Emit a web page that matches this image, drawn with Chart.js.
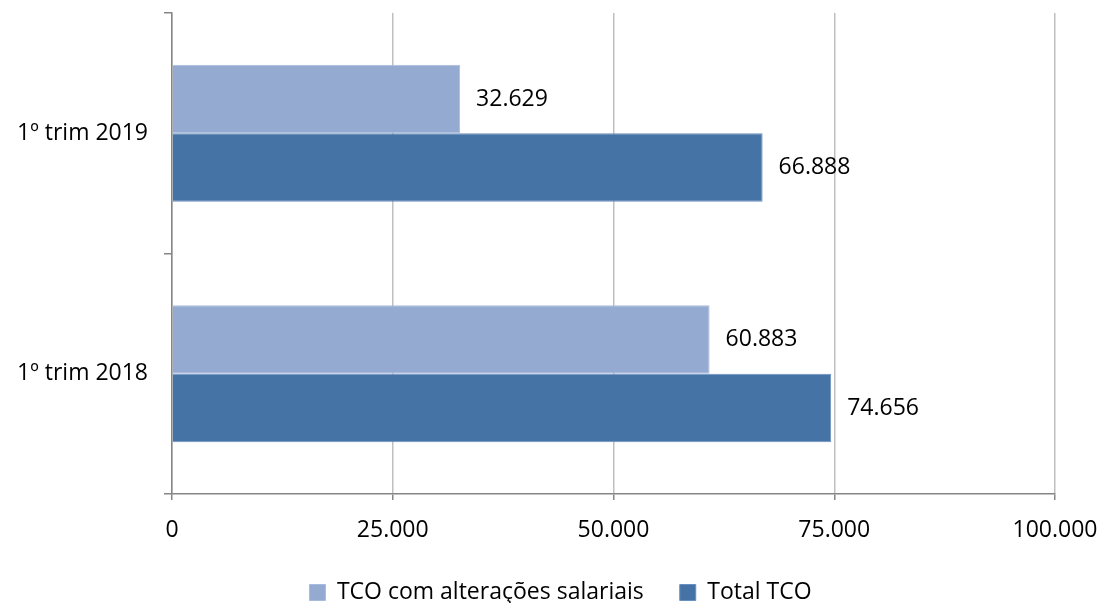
<!DOCTYPE html>
<html>
<head>
<meta charset="utf-8">
<script src="https://cdn.jsdelivr.net/npm/chart.js@4"></script>
<style>
  html, body { margin: 0; padding: 0; background: #fff; }
  canvas { display: block; }
</style>
</head>
<body>
<canvas id="c" width="1102" height="603" style="width:1102px;height:603px"></canvas>
<script>
const categories = ['1º trim 2019', '1º trim 2018'];
const seriesNames = ['TCO com alterações salariais', 'Total TCO'];
const tcoAlteracoes = [32629, 60883];
const totalTco = [66888, 74656];
const xTicks = [0, 25000, 50000, 75000, 100000];

const FONT = "'Open Sans', sans-serif";
const FS = 23;
const fmt = v => new Intl.NumberFormat('de-DE').format(v);

const valueLabels = {
  id: 'valueLabels',
  afterDatasetsDraw(chart) {
    const ctx = chart.ctx;
    ctx.save();
    ctx.font = FS + "px " + FONT;
    ctx.fillStyle = '#000';
    ctx.textAlign = 'left';
    ctx.textBaseline = 'middle';
    chart.data.datasets.forEach((ds, i) => {
      chart.getDatasetMeta(i).data.forEach((bar, j) => {
        ctx.fillText(fmt(ds.data[j]), bar.x + 16, bar.y);
      });
    });
    ctx.restore();
  }
};

const legendFit = {
  id: 'legendFit',
  beforeInit(chart) {
    const lg = chart.legend;
    if (!lg) return;
    const origFit = lg.fit;
    lg.fit = function () {
      origFit.call(this);
      this.height = 60;
    };
    const origDraw = lg.draw;
    lg.draw = function () {
      const ctx = this.ctx;
      ctx.save();
      ctx.translate(33, 2);
      origDraw.call(this);
      ctx.restore();
    };
  }
};

new Chart(document.getElementById('c'), {
  type: 'bar',
  data: {
    labels: categories,
    datasets: [
      {
        label: seriesNames[0],
        data: tcoAlteracoes,
        backgroundColor: '#94AAD1',
        borderColor: '#A9BCE0',
        borderWidth: 1,
        barPercentage: 1.0,
        categoryPercentage: 0.57
      },
      {
        label: seriesNames[1],
        data: totalTco,
        backgroundColor: '#4673A6',
        borderColor: '#6A8FC0',
        borderWidth: 1,
        barPercentage: 1.0,
        categoryPercentage: 0.57
      }
    ]
  },
  options: {
    indexAxis: 'y',
    responsive: false,
    animation: false,
    devicePixelRatio: 1,
    layout: { padding: { top: 13, right: 47, bottom: 0, left: 0 } },
    scales: {
      x: {
        min: 0,
        max: 100000,
        afterBuildTicks(scale) { scale.ticks = xTicks.map(v => ({ value: v })); },
        afterFit(scale) { scale.height = 49; scale.paddingLeft = 0; scale.paddingRight = 0; },
        ticks: {
          font: { family: FONT, size: FS },
          color: '#000',
          padding: 17,
          maxRotation: 0,
          callback: v => fmt(v)
        },
        grid: {
          color: '#BFBFBF',
          tickColor: '#868686',
          tickLength: 6,
          lineWidth: 1.5
        },
        border: { color: '#868686', width: 1.5 }
      },
      y: {
        afterFit(scale) { scale.width = 172; scale.paddingTop = 0; scale.paddingBottom = 0; },
        ticks: {
          font: { family: FONT, size: FS },
          color: '#000',
          padding: 16
        },
        grid: {
          drawOnChartArea: false,
          offset: true,
          tickLength: 8,
          color: '#868686',
          lineWidth: 1.5
        },
        border: { color: '#868686', width: 1.5 }
      }
    },
    plugins: {
      legend: {
        position: 'bottom',
        labels: {
          font: { family: FONT, size: FS },
          color: '#000',
          boxWidth: 16,
          boxHeight: 16,
          padding: 36,
          useBorderRadius: false
        }
      },
      tooltip: { enabled: false }
    }
  },
  plugins: [valueLabels, legendFit]
});
</script>
</body>
</html>
